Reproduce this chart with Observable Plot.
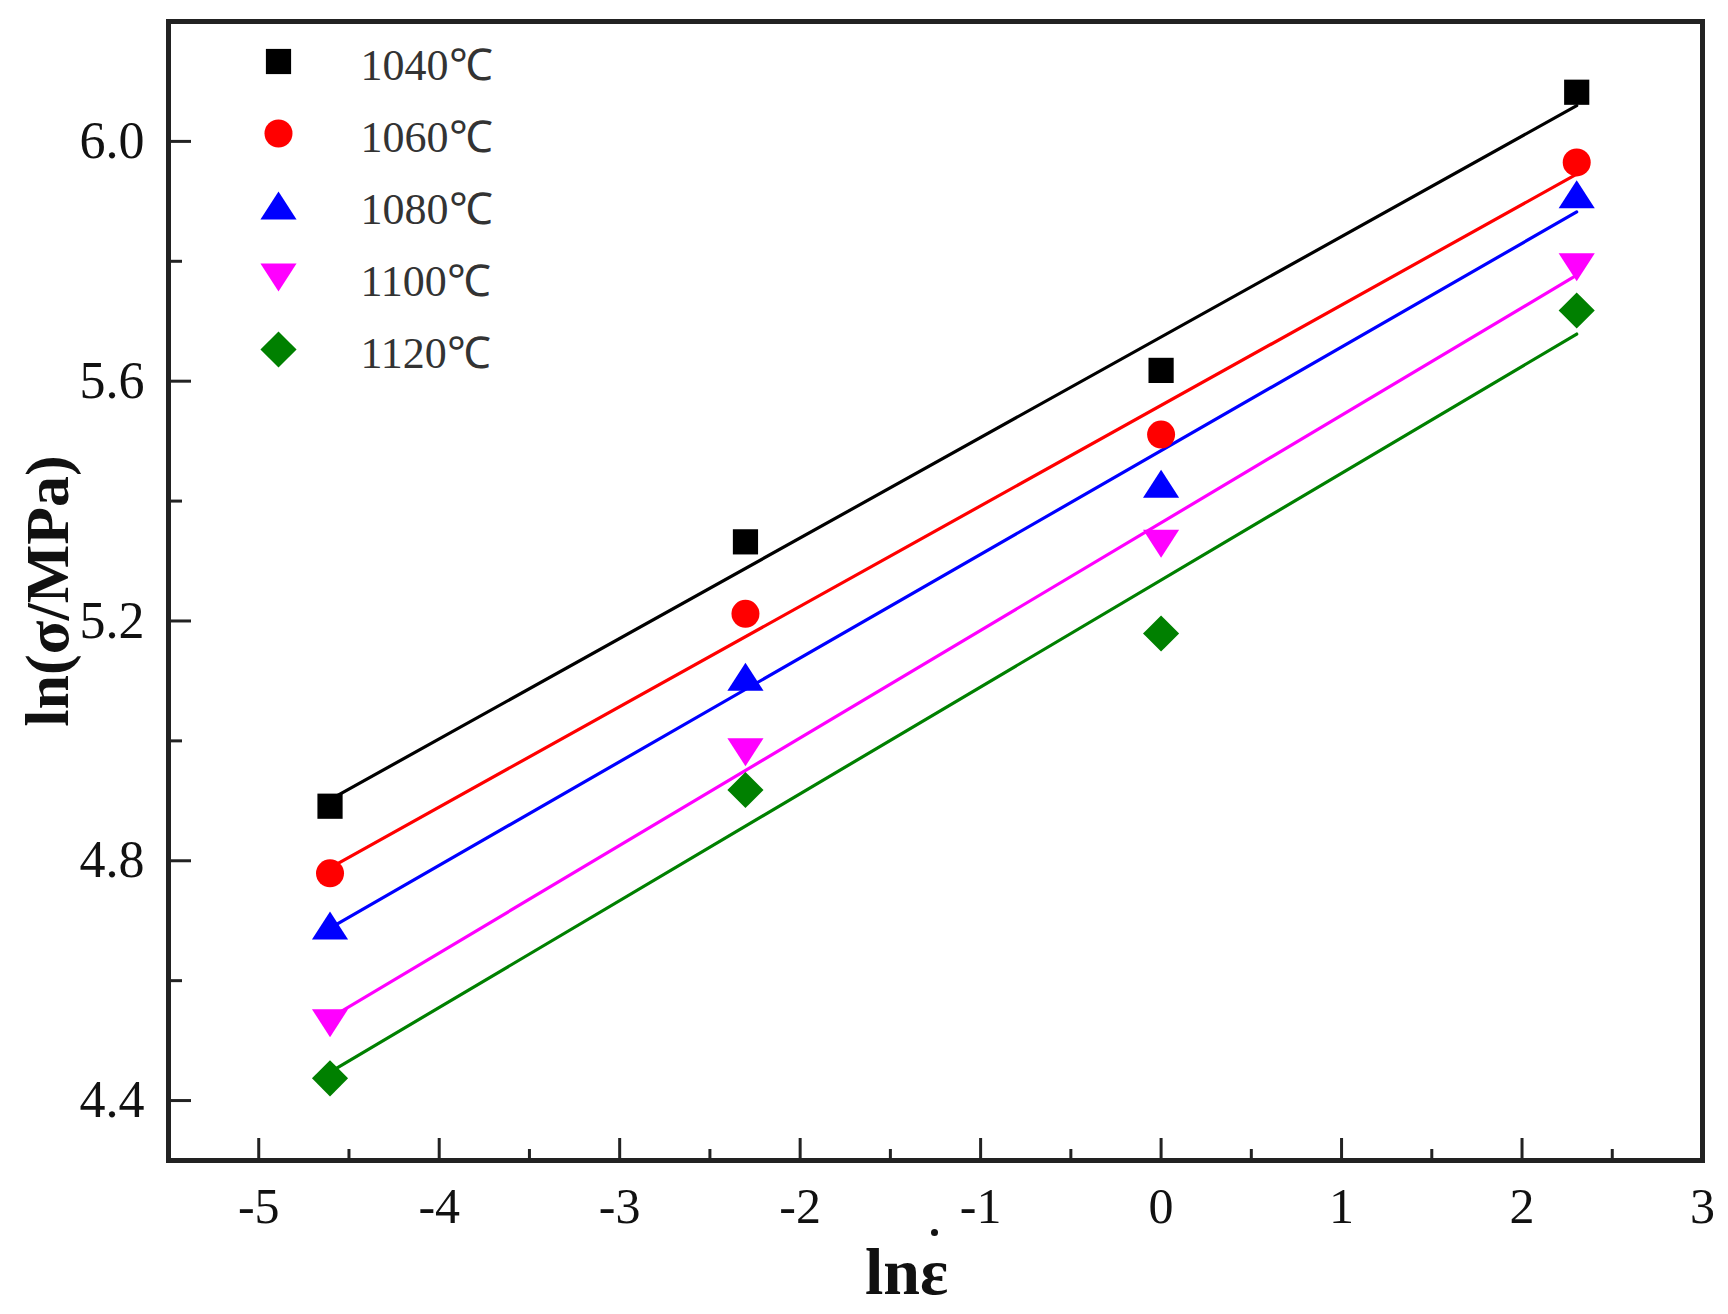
<!DOCTYPE html>
<html>
<head>
<meta charset="utf-8">
<script src="https://cdn.jsdelivr.net/npm/d3@7"></script>
<script src="https://cdn.jsdelivr.net/npm/@observablehq/plot@0.6"></script>
<style>
  html, body { margin: 0; padding: 0; background: #fff; }
  #chart svg { display: block; }
</style>
</head>
<body>
<div id="chart"></div>
<script>
// ln(strain rate) for 0.01, 0.1, 1, 10 s^-1
const lnStrainRate = [-4.605, -2.303, 0, 2.303];
const seriesNames = ["1040℃", "1060℃", "1080℃", "1100℃", "1120℃"];
const seriesColors = ["#000000", "#ff0000", "#0000ff", "#ff00ff", "#008000"];
const seriesSymbols = ["square", "circle", "triangleUp", "triangleDown", "diamond"];
const values1040 = [4.891, 5.332, 5.618, 6.082];
const values1060 = [4.779, 5.212, 5.511, 5.965];
const values1080 = [4.692, 5.107, 5.429, 5.912];
const values1100 = [4.529, 4.981, 5.329, 5.790];
const values1120 = [4.437, 4.918, 5.179, 5.718];
const seriesValues = [values1040, values1060, values1080, values1100, values1120];

const xDomain = [-5.5, 3];
const yDomain = [4.3, 6.2];
const xMajorTicks = [-5, -4, -3, -2, -1, 0, 1, 2, 3];
const xMinorTicks = [-4.5, -3.5, -2.5, -1.5, -0.5, 0.5, 1.5, 2.5];
const yMajorTicks = [4.4, 4.8, 5.2, 5.6, 6.0];
const yMinorTicks = [4.6, 5.0, 5.4, 5.8];

// layout
const W = 1728, H = 1314;
const mL = 168, mR = 26, mT = 21, mB = 154;
const plotW = W - mL - mR, plotH = H - mT - mB;
const serif = "'Liberation Serif', 'Times New Roman', serif";

// custom marker shapes (centered on bounding box)
const rOf = size => Math.sqrt(size / Math.PI);
const symbolShapes = {
  square: {draw(c, size) { const h = 0.9 * rOf(size); c.rect(-h, -h, 2 * h, 2 * h); }},
  circle: "circle",
  triangleUp: {draw(c, size) { const r = rOf(size), w = 1.29 * r, h = 1.0 * r;
    c.moveTo(0, -h); c.lineTo(w, h); c.lineTo(-w, h); c.closePath(); }},
  triangleDown: {draw(c, size) { const r = rOf(size), w = 1.29 * r, h = 1.0 * r;
    c.moveTo(0, h); c.lineTo(w, -h); c.lineTo(-w, -h); c.closePath(); }},
  diamond: {draw(c, size) { const r = rOf(size), d = 1.29 * r;
    c.moveTo(0, -d); c.lineTo(d, 0); c.lineTo(0, d); c.lineTo(-d, 0); c.closePath(); }}
};

const series = seriesNames.map((name, i) => ({
  name, color: seriesColors[i], symbol: symbolShapes[seriesSymbols[i]],
  points: lnStrainRate.map((x, j) => ({x, y: seriesValues[i][j]}))
}));

const marks = [];
// regression lines
for (const s of series) {
  marks.push(Plot.linearRegressionY(s.points, {x: "x", y: "y", stroke: s.color, strokeWidth: 3.2, ci: 0}));
}
// data markers
for (const s of series) {
  marks.push(Plot.dot(s.points, {x: "x", y: "y", r: 14, symbol: s.symbol, fill: s.color, stroke: "none"}));
}
// inward ticks
marks.push(Plot.ruleX(xMajorTicks, {x: d => d, stroke: "#222", strokeWidth: 3, insetTop: plotH - 22}));
marks.push(Plot.ruleX(xMinorTicks, {x: d => d, stroke: "#222", strokeWidth: 3, insetTop: plotH - 11}));
marks.push(Plot.ruleY(yMajorTicks, {y: d => d, stroke: "#222", strokeWidth: 3, insetRight: plotW - 23}));
marks.push(Plot.ruleY(yMinorTicks, {y: d => d, stroke: "#222", strokeWidth: 3, insetRight: plotW - 14}));
// tick labels
marks.push(Plot.axisX(xMajorTicks, {tickSize: 0, tickPadding: 27, tickFormat: d => String(d),
  fontSize: 50, fontFamily: serif, fill: "#111", label: null}));
marks.push(Plot.axisY(yMajorTicks, {tickSize: 0, tickPadding: 24, tickFormat: d3.format(".1f"),
  fontSize: 52, fontFamily: serif, fill: "#111", label: null}));
// frame
marks.push(Plot.frame({stroke: "#222", strokeWidth: 5}));
// axis titles
marks.push(Plot.text(["lnε"], {frameAnchor: "bottom", dx: -29, dy: 112, text: d => d,
  lineAnchor: "middle", textAnchor: "middle",
  fontSize: 66, fontWeight: "bold", fontFamily: serif, fill: "#111"}));
// the dot over epsilon (strain-rate notation)
marks.push(Plot.dot(["dot"], {frameAnchor: "bottom", dx: -1, dy: 72, r: 3.5, fill: "#111", stroke: "none"}));
marks.push(Plot.text(["ln(σ/MPa)"], {frameAnchor: "left", dx: -120, rotate: -90, text: d => d,
  lineAnchor: "middle", textAnchor: "middle",
  fontSize: 62, fontWeight: "bold", fontFamily: serif, fill: "#111"}));
// legend
series.forEach((s, i) => {
  marks.push(Plot.dot([s.name], {frameAnchor: "top-left", dx: 110, dy: 40 + 72 * i, r: 14,
    symbol: s.symbol, fill: s.color, stroke: "none"}));
  marks.push(Plot.text([s.name], {frameAnchor: "top-left", dx: 192, dy: 44 + 72 * i, text: d => d,
    textAnchor: "start", lineAnchor: "middle", fontSize: 44, fontFamily: serif, fill: "#333"}));
});

const chart = Plot.plot({
  width: W, height: H,
  marginLeft: mL, marginRight: mR, marginTop: mT, marginBottom: mB,
  style: {background: "#fff", overflow: "visible"},
  x: {domain: xDomain, axis: null},
  y: {domain: yDomain, axis: null},
  marks
});
document.getElementById("chart").appendChild(chart);
</script>
</body>
</html>
